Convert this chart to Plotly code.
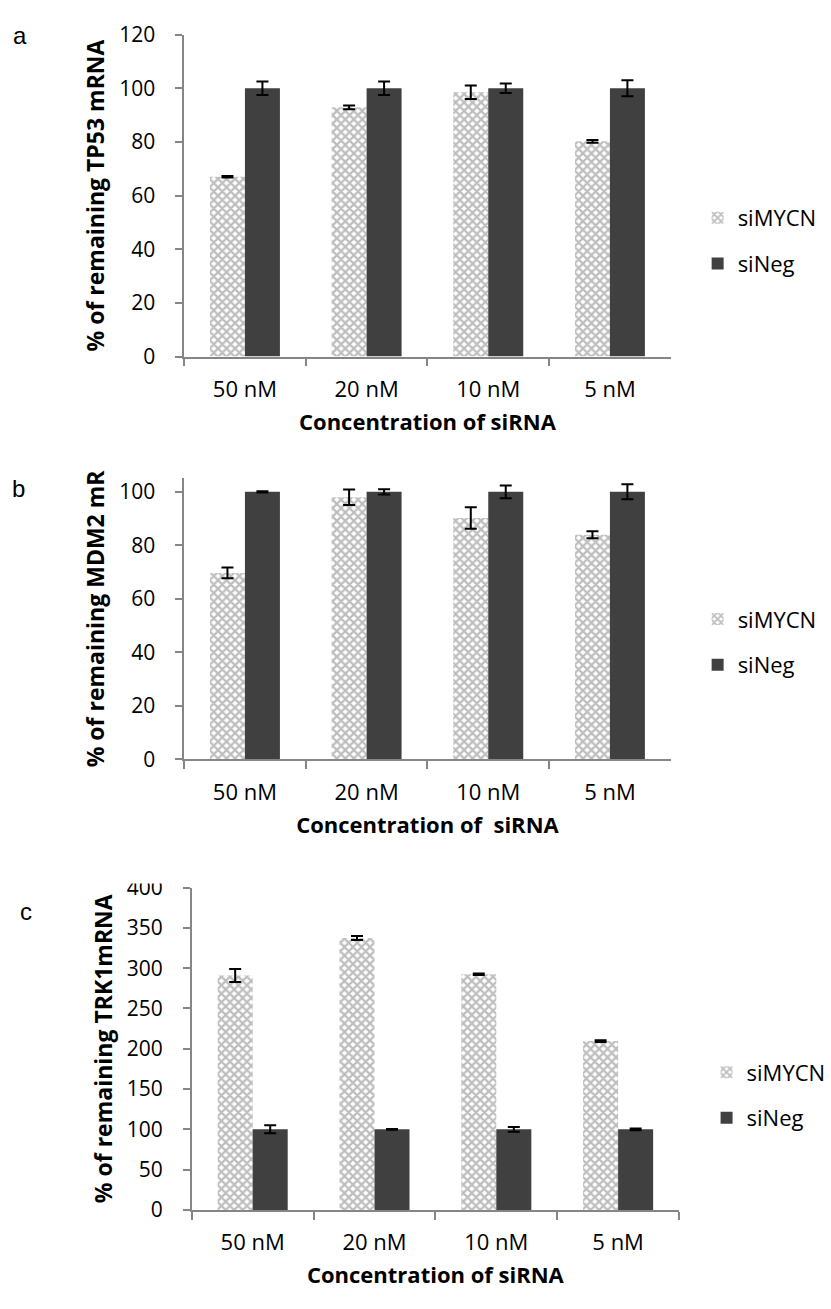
import plotly.graph_objects as go

W, H = 831, 1309

categories = ["50 nM", "20 nM", "10 nM", "5 nM"]

# Panel a: TP53
a_simycn = [67.0, 92.9, 98.5, 80.2]
a_simycn_err = [0.3, 0.7, 2.5, 0.5]
a_sineg = [100, 100, 100, 100]
a_sineg_err = [2.5, 2.5, 1.8, 3.0]

# Panel b: MDM2
b_simycn = [69.7, 98.0, 90.2, 84.0]
b_simycn_err = [2.0, 2.9, 4.0, 1.3]
b_sineg = [100, 100, 100, 100]
b_sineg_err = [0.2, 1.0, 2.4, 2.8]

# Panel c: TRK1
c_simycn = [291, 337.5, 292.5, 209.5]
c_simycn_err = [8.0, 2.4, 1.0, 1.0]
c_sineg = [100, 100, 100, 100]
c_sineg_err = [5.0, 0.5, 3.0, 1.0]

y_titles = ["% of remaining TP53 mRNA", "% of remaining MDM2 mR", "% of remaining TRK1mRNA"]
x_titles = ["Concentration of siRNA", "Concentration of \u00a0siRNA", "Concentration of siRNA"]
panel_letters = ["a", "b", "c"]

FONT = "Open Sans"
AXC = "#868686"
DARK = "#404040"


def px_x(x):
    return x / W


def px_y(y):
    return 1 - y / H


fig = go.Figure()

panels = [
    dict(mycn=a_simycn, mycn_err=a_simycn_err, neg=a_sineg, neg_err=a_sineg_err,
         xd=(185, 674), yd=(349, 20), yr=(0, 120), dt=20, leg="legend"),
    dict(mycn=b_simycn, mycn_err=b_simycn_err, neg=b_sineg, neg_err=b_sineg_err,
         xd=(185, 674), yd=(760.7, 473.6), yr=(0, 105), dt=20, leg="legend2"),
    dict(mycn=c_simycn, mycn_err=c_simycn_err, neg=c_sineg, neg_err=c_sineg_err,
         xd=(192.7, 682.3), yd=(1221, 891.7), yr=(0, 400), dt=50, leg="legend3"),
]

for i, p in enumerate(panels):
    n = "" if i == 0 else str(i + 1)
    xa, ya = "x" + n, "y" + n
    fig.add_trace(go.Bar(
        x=categories, y=p["mycn"], name="siMYCN", xaxis=xa, yaxis=ya,
        legend=p["leg"], legendgroup="m" + n,
        marker=dict(color="white", line=dict(width=0),
                    pattern=dict(shape="x", fgcolor="#7c7c7c", bgcolor="white",
                                 size=6, solidity=0.6)),
        error_y=dict(type="data", array=p["mycn_err"], color="black",
                     thickness=2, width=6),
    ))
    fig.add_trace(go.Bar(
        x=categories, y=p["neg"], name="siNeg", xaxis=xa, yaxis=ya,
        legend=p["leg"], legendgroup="n" + n,
        marker=dict(color=DARK, line=dict(width=0)),
        error_y=dict(type="data", array=p["neg_err"], color="black",
                     thickness=2, width=6),
    ))
    fig.layout["xaxis" + n] = dict(
        domain=[px_x(p["xd"][0]), px_x(p["xd"][1])], anchor=ya,
        showline=True, linecolor=AXC, linewidth=1.5,
        ticks="outside", tickson="boundaries", ticklen=8, tickcolor=AXC, tickwidth=1.5,
        tickfont=dict(family=FONT, size=22, color="black"),
        ticklabelstandoff=12,
        showgrid=False, zeroline=False,
        title=dict(text="<b>" + x_titles[i] + "</b>",
                   font=dict(family=FONT, size=22, color="black"), standoff=13),
    )
    fig.layout["yaxis" + n] = dict(
        domain=[px_y(p["yd"][0]), px_y(p["yd"][1])], anchor=xa,
        range=list(p["yr"]), tick0=0, dtick=p["dt"],
        showline=True, linecolor=AXC, linewidth=1.5,
        ticks="outside", ticklen=7, tickcolor=AXC, tickwidth=1.5,
        tickfont=dict(family=FONT, size=21, color="black"),
        ticklabelstandoff=16,
        showgrid=False, zeroline=False,
        title=dict(text="<b>" + y_titles[i] + "</b>",
                   font=dict(family=FONT, size=23, color="black"), standoff=8),
    )

leg_common = dict(xanchor="left", yanchor="middle", bgcolor="rgba(0,0,0,0)",
                  font=dict(family=FONT, size=22, color="black"),
                  tracegroupgap=14, traceorder="grouped")
fig.update_layout(
    legend=dict(x=px_x(701), y=px_y(231), **leg_common),
    legend2=dict(x=px_x(701), y=px_y(641), **leg_common),
    legend3=dict(x=px_x(710), y=px_y(1104), **leg_common),
)

letter_pos = [(20, 21), (19, 484), (26, 916)]
for L, (lx, ly) in zip(panel_letters, letter_pos):
    fig.add_annotation(x=px_x(lx), y=px_y(ly), xref="paper", yref="paper",
                       text=L, showarrow=False, xanchor="center", yanchor="middle",
                       font=dict(family="Liberation Sans", size=24, color="black"))

# the top of the "400" label is cut off in the original figure
fig.add_shape(type="rect", xref="paper", yref="paper", layer="above",
              x0=px_x(110), x1=px_x(184), y0=px_y(887.5), y1=px_y(870),
              fillcolor="white", line=dict(width=0))

fig.update_layout(
    width=W, height=H, margin=dict(l=0, r=0, t=0, b=0),
    paper_bgcolor="white", plot_bgcolor="white",
    barmode="group", bargap=0.425, bargroupgap=0,
    font=dict(family=FONT, color="black"),
)

fig.write_html("out.html")
